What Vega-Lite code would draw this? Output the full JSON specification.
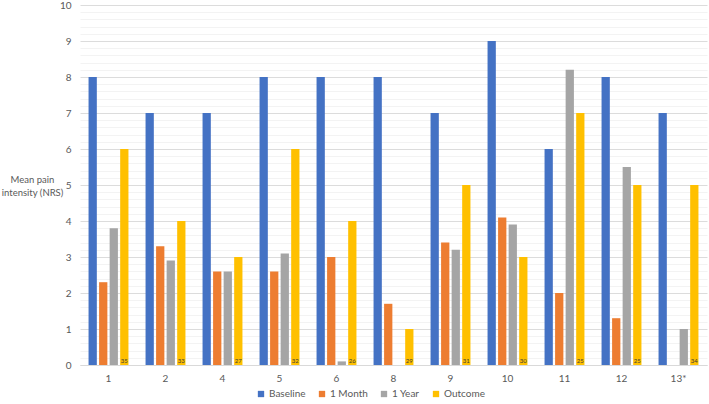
{
  "$schema": "https://vega.github.io/schema/vega-lite/v6.json",
  "autosize": "none",
  "width": 627,
  "height": 360,
  "padding": {"left": 80, "top": 5, "right": 2, "bottom": 39},
  "background": "white",
  "config": {
    "font": "Lato",
    "view": {"stroke": null},
    "axis": {"labelColor": "#595959", "titleColor": "#595959", "labelFontSize": 10, "titleFontSize": 9.5, "titleFontWeight": "normal"}
  },
  "data": {
    "values": [
      {"group": "1", "series": "Baseline", "value": 8},
      {"group": "1", "series": "1 Month", "value": 2.3},
      {"group": "1", "series": "1 Year", "value": 3.8},
      {"group": "1", "series": "Outcome", "value": 6, "n": 35},
      {"group": "2", "series": "Baseline", "value": 7},
      {"group": "2", "series": "1 Month", "value": 3.3},
      {"group": "2", "series": "1 Year", "value": 2.9},
      {"group": "2", "series": "Outcome", "value": 4, "n": 33},
      {"group": "4", "series": "Baseline", "value": 7},
      {"group": "4", "series": "1 Month", "value": 2.6},
      {"group": "4", "series": "1 Year", "value": 2.6},
      {"group": "4", "series": "Outcome", "value": 3, "n": 27},
      {"group": "5", "series": "Baseline", "value": 8},
      {"group": "5", "series": "1 Month", "value": 2.6},
      {"group": "5", "series": "1 Year", "value": 3.1},
      {"group": "5", "series": "Outcome", "value": 6, "n": 32},
      {"group": "6", "series": "Baseline", "value": 8},
      {"group": "6", "series": "1 Month", "value": 3},
      {"group": "6", "series": "1 Year", "value": 0.1},
      {"group": "6", "series": "Outcome", "value": 4, "n": 26},
      {"group": "8", "series": "Baseline", "value": 8},
      {"group": "8", "series": "1 Month", "value": 1.7},
      {"group": "8", "series": "Outcome", "value": 1, "n": 29},
      {"group": "9", "series": "Baseline", "value": 7},
      {"group": "9", "series": "1 Month", "value": 3.4},
      {"group": "9", "series": "1 Year", "value": 3.2},
      {"group": "9", "series": "Outcome", "value": 5, "n": 31},
      {"group": "10", "series": "Baseline", "value": 9},
      {"group": "10", "series": "1 Month", "value": 4.1},
      {"group": "10", "series": "1 Year", "value": 3.9},
      {"group": "10", "series": "Outcome", "value": 3, "n": 30},
      {"group": "11", "series": "Baseline", "value": 6},
      {"group": "11", "series": "1 Month", "value": 2},
      {"group": "11", "series": "1 Year", "value": 8.2},
      {"group": "11", "series": "Outcome", "value": 7, "n": 25},
      {"group": "12", "series": "Baseline", "value": 8},
      {"group": "12", "series": "1 Month", "value": 1.3},
      {"group": "12", "series": "1 Year", "value": 5.5},
      {"group": "12", "series": "Outcome", "value": 5, "n": 25},
      {"group": "13*", "series": "Baseline", "value": 7},
      {"group": "13*", "series": "1 Year", "value": 1},
      {"group": "13*", "series": "Outcome", "value": 5, "n": 34}
    ]
  },
  "encoding": {
    "x": {
      "field": "group",
      "type": "nominal",
      "sort": null,
      "scale": {"domain": ["1", "2", "4", "5", "6", "8", "9", "10", "11", "12", "13*"], "paddingInner": 0.3, "paddingOuter": 0.15},
      "axis": {"title": null, "labelAngle": 0, "ticks": false, "labelPadding": 8, "domainColor": "#d9d9d9", "grid": false}
    },
    "xOffset": {
      "field": "series",
      "type": "nominal",
      "scale": {"domain": ["Baseline", "1 Month", "1 Year", "Outcome"], "paddingInner": 0.215, "paddingOuter": 0}
    },
    "y": {
      "field": "value",
      "type": "quantitative",
      "scale": {"domain": [0, 10], "nice": false},
      "axis": {
        "title": ["Mean pain", "intensity (NRS)"],
        "titleAngle": 0,
        "titleAlign": "center",
        "titleBaseline": "middle",
        "titleX": -48,
        "titleY": 174,
        "titleLineHeight": 13,
        "values": [0, 0.2, 0.4, 0.6, 0.8, 1, 1.2, 1.4, 1.6, 1.8, 2, 2.2, 2.4, 2.6, 2.8, 3, 3.2, 3.4, 3.6, 3.8, 4, 4.2, 4.4, 4.6, 4.8, 5, 5.2, 5.4, 5.6, 5.8, 6, 6.2, 6.4, 6.6, 6.8, 7, 7.2, 7.4, 7.6, 7.8, 8, 8.2, 8.4, 8.6, 8.8, 9, 9.2, 9.4, 9.6, 9.8, 10],
        "labelExpr": "datum.value % 1 === 0 ? format(datum.value, 'd') : ''",
        "ticks": false,
        "domain": false,
        "labelPadding": 9,
        "grid": true,
        "gridColor": {"condition": {"test": "datum.value % 1 === 0", "value": "#dcdcdc"}, "value": "#f3f3f3"},
        "gridWidth": 1
      }
    }
  },
  "layer": [
    {
      "mark": {"type": "bar"},
      "encoding": {
        "color": {
          "field": "series",
          "type": "nominal",
          "scale": {"domain": ["Baseline", "1 Month", "1 Year", "Outcome"], "range": ["#4472C4", "#ED7D31", "#A5A5A5", "#FFC000"]},
          "legend": {
            "title": null,
            "orient": "none",
            "legendX": 176,
            "legendY": 384,
            "direction": "horizontal",
            "symbolType": "square",
            "symbolSize": 40,
            "symbolStrokeWidth": 0,
            "labelFontSize": 10,
            "labelColor": "#595959",
            "labelOffset": 3,
            "columnPadding": 11
          }
        }
      }
    },
    {
      "transform": [{"filter": "datum.series === 'Outcome'"}],
      "mark": {"type": "text", "fontSize": 6, "color": "#3a3a3a", "baseline": "middle", "dy": -4},
      "encoding": {
        "y": {"datum": 0},
        "text": {"field": "n", "type": "quantitative"}
      }
    }
  ]
}
